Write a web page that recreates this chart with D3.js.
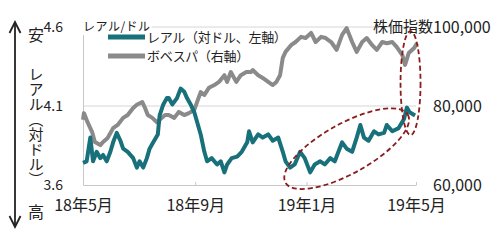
<!DOCTYPE html>
<html><head><meta charset="utf-8">
<script src="https://cdn.jsdelivr.net/npm/d3@7/dist/d3.min.js"></script>
<style>
html,body{margin:0;padding:0;background:#fff;}
svg text{font-family:"Noto Sans CJK JP","Noto Sans",sans-serif;fill:#222;}
</style></head>
<body><svg id="c" width="500" height="247"></svg>
<script>
// ---- data ----
const realDates = ["2018-05-01","2018-05-05","2018-05-09","2018-05-12","2018-05-16","2018-05-20","2018-05-23","2018-05-27","2018-05-31","2018-06-03","2018-06-07","2018-06-11","2018-06-14","2018-06-19","2018-06-25","2018-06-29","2018-07-02","2018-07-06","2018-07-10","2018-07-13","2018-07-17","2018-07-22","2018-07-24","2018-07-28","2018-08-01","2018-08-03","2018-08-07","2018-08-12","2018-08-16","2018-08-20","2018-08-23","2018-08-27","2018-08-31","2018-09-03","2018-09-07","2018-09-11","2018-09-14","2018-09-19","2018-09-25","2018-09-29","2018-10-03","2018-10-06","2018-10-11","2018-10-17","2018-10-22","2018-10-28","2018-10-30","2018-11-03","2018-11-09","2018-11-14","2018-11-20","2018-11-25","2018-12-01","2018-12-06","2018-12-09","2018-12-14","2018-12-19","2018-12-25","2018-12-30","2019-01-05","2019-01-10","2019-01-16","2019-01-21","2019-01-27","2019-02-01","2019-02-03","2019-02-09","2019-02-14","2019-02-20","2019-02-25","2019-03-01","2019-03-05","2019-03-10","2019-03-16","2019-03-21","2019-03-27","2019-03-30","2019-04-05","2019-04-12","2019-04-18","2019-04-21","2019-04-24","2019-04-30"];
const realValues = [3.74,3.75,3.90,3.75,3.81,3.77,3.79,3.75,3.81,3.87,3.93,3.88,3.83,3.81,3.77,3.71,3.75,3.71,3.77,3.83,3.87,3.92,4.04,4.11,4.15,4.15,4.11,4.15,4.21,4.19,4.15,4.11,4.06,4.00,3.92,3.81,3.75,3.77,3.73,3.75,3.68,3.73,3.77,3.78,3.81,3.87,3.94,3.87,3.92,3.90,3.92,3.88,3.90,3.81,3.75,3.71,3.73,3.81,3.77,3.68,3.73,3.75,3.73,3.77,3.75,3.78,3.87,3.83,3.81,3.90,3.98,3.90,3.88,3.94,3.92,3.93,3.98,3.94,3.96,4.02,4.09,4.06,4.04];

const bovDates = ["2018-05-01","2018-05-02","2018-05-06","2018-05-11","2018-05-14","2018-05-20","2018-05-23","2018-05-28","2018-06-03","2018-06-08","2018-06-14","2018-06-19","2018-06-25","2018-06-29","2018-07-05","2018-07-08","2018-07-11","2018-07-16","2018-07-21","2018-07-24","2018-07-30","2018-08-03","2018-08-09","2018-08-14","2018-08-20","2018-08-25","2018-08-31","2018-09-03","2018-09-07","2018-09-11","2018-09-16","2018-09-22","2018-09-27","2018-10-03","2018-10-06","2018-10-10","2018-10-16","2018-10-21","2018-10-27","2018-11-01","2018-11-03","2018-11-09","2018-11-14","2018-11-20","2018-11-25","2018-11-29","2018-12-03","2018-12-06","2018-12-09","2018-12-15","2018-12-20","2018-12-26","2018-12-31","2019-01-06","2019-01-11","2019-01-17","2019-01-22","2019-01-28","2019-02-03","2019-02-09","2019-02-14","2019-02-20","2019-02-25","2019-03-03","2019-03-08","2019-03-14","2019-03-19","2019-03-25","2019-03-30","2019-04-05","2019-04-10","2019-04-16","2019-04-19","2019-04-23","2019-04-29","2019-05-02"];
const bovValues = [76500,78200,75900,73400,70900,70100,70900,71900,74400,75200,77000,77700,79500,80300,81000,79500,77700,77000,75900,76500,77700,77700,77000,78500,77700,78200,79000,81000,83500,82800,84600,85300,86100,87800,86100,88600,86100,87800,88600,88600,89100,87800,87100,86100,85300,86100,87800,92200,93700,95400,96200,97500,97200,98500,96200,97500,97200,96200,94200,98000,99700,96200,93700,96200,97200,95400,94200,96200,95900,96200,94900,92900,90400,93400,94700,95900];

const xTickDates = ["2018-05-01","2018-09-01","2019-01-01","2019-05-01"];
const xTickLabels = ["18年5月","18年9月","19年1月","19年5月"];
const leftTicks = [3.6,4.1,4.6];
const rightTicks = [60000,80000,100000];
const seriesNames = ["レアル（対ドル、左軸）","ボベスパ（右軸）"];
// annotation ellipse centres (date, left-axis value)
const annotDates = ["2019-02-14","2019-04-25"];
const annotValues = [3.83,4.245];

// ---- drawing ----
const parse = d3.timeParse("%Y-%m-%d");
const svg = d3.select("#c");
const L=83,R=416,T=27,B=185;
const x = d3.scaleTime().domain([parse("2018-05-01"),parse("2019-05-01")]).range([L,R]);
const yL = d3.scaleLinear().domain([3.6,4.6]).range([B,T]);
const yR = d3.scaleLinear().domain([60000,100000]).range([B,T]);
const teal="#17707a", grey="#8a8a8a", axisCol="#c8c8c8", red="#8b1c1c";

// gridlines
svg.append("g").selectAll("line").data([4.1,4.6]).join("line")
  .attr("x1",L).attr("x2",R).attr("y1",d=>yL(d)).attr("y2",d=>yL(d))
  .attr("stroke","#d6d6d6").attr("stroke-width",1);

// bottom axis
const gx = svg.append("g").attr("transform",`translate(0,${B})`)
  .call(d3.axisBottom(x).tickValues(xTickDates.map(parse))
    .tickFormat((d,i)=>xTickLabels[i]).tickSizeInner(-3).tickSizeOuter(0).tickPadding(15));
gx.select(".domain").attr("stroke",axisCol);
gx.selectAll(".tick line").attr("stroke",axisCol);
gx.selectAll("text").attr("font-size",16).attr("fill","#222");

// left axis
const gl = svg.append("g").attr("transform",`translate(${L},0)`)
  .call(d3.axisLeft(yL).tickValues(leftTicks).tickFormat(d3.format(".1f")).tickSize(0).tickPadding(20));
gl.select(".domain").attr("stroke",axisCol);
gl.selectAll("text").attr("font-size",14).attr("fill","#222");

// right axis
const gr = svg.append("g").attr("transform",`translate(${R},0)`)
  .call(d3.axisRight(yR).tickValues(rightTicks).tickFormat(d3.format(",")).tickSize(0).tickPadding(17));
gr.select(".domain").remove();
gr.selectAll("text").attr("font-size",16).attr("fill","#222");
svg.append("text").attr("x",R+17).attr("y",yR(100000)).attr("dy","0.35em")
  .attr("text-anchor","end").attr("font-size",15).text("株価指数");

// lines
const bov = bovDates.map((d,i)=>({d:parse(d),v:bovValues[i]}));
const real = realDates.map((d,i)=>({d:parse(d),v:realValues[i]}));
svg.append("path").datum(bov).attr("fill","none").attr("stroke",grey).attr("stroke-width",4)
  .attr("stroke-linejoin","round").attr("d",d3.line().x(p=>x(p.d)).y(p=>yR(p.v)));
svg.append("path").datum(real).attr("fill","none").attr("stroke",teal).attr("stroke-width",4)
  .attr("stroke-linejoin","round").attr("d",d3.line().x(p=>x(p.d)).y(p=>yL(p.v)));

// annotation ellipses
const ell = [{rx:70,ry:25,rot:-29},{rx:10,ry:52,rot:0}];
svg.append("g").selectAll("ellipse").data(annotDates).join("ellipse")
  .attr("cx",0).attr("cy",0)
  .attr("rx",(d,i)=>ell[i].rx).attr("ry",(d,i)=>ell[i].ry)
  .attr("transform",(d,i)=>`translate(${x(parse(d))},${yL(annotValues[i])}) rotate(${ell[i].rot})`)
  .attr("fill","none").attr("stroke",red).attr("stroke-width",1.8).attr("stroke-dasharray","5,3");

// unit label with white background
const ulBg = svg.append("rect").attr("fill","#fff");
const ul = svg.append("text").attr("x",L).attr("y",T).attr("dy","0.35em")
  .attr("font-size",12).attr("letter-spacing",0.5).text("レアル/ドル");
const bb = ul.node().getBBox();
ulBg.attr("x",bb.x-1).attr("y",bb.y).attr("width",bb.width+2).attr("height",bb.height+1);

// legend
const lg = svg.append("g");
[teal,grey].forEach((c,i)=>{
  const yy = 37 + i*19;
  lg.append("line").attr("x1",108).attr("x2",145).attr("y1",yy).attr("y2",yy)
    .attr("stroke",c).attr("stroke-width",5);
  lg.append("text").attr("x",147).attr("y",yy).attr("dy","0.36em").attr("font-size",13)
    .attr("letter-spacing",-0.3).text(seriesNames[i]);
});

// left double arrow & labels
svg.append("line").attr("x1",15).attr("x2",15).attr("y1",22).attr("y2",227)
  .attr("stroke","#222").attr("stroke-width",1.8);
svg.append("path").attr("d","M9.5,33 L15,22 L20.5,33 M9.5,216 L15,227 L20.5,216")
  .attr("fill","none").attr("stroke","#222").attr("stroke-width",1.8);
svg.append("text").attr("x",36).attr("y",35).attr("dy","0.36em").attr("text-anchor","middle")
  .attr("font-size",16).text("安");
svg.append("text").attr("x",36).attr("y",212).attr("dy","0.36em").attr("text-anchor","middle")
  .attr("font-size",16).text("高");
svg.append("text").attr("x",36).attr("y",67).attr("font-size",15)
  .style("writing-mode","vertical-rl")
  .text("レアル（対ドル）");
</script></body></html>
